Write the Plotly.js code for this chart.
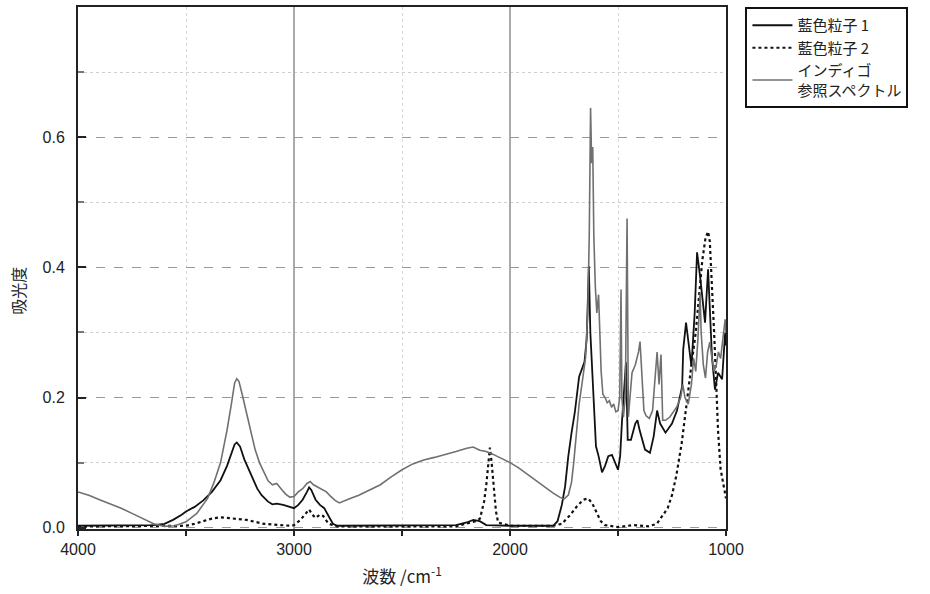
<!DOCTYPE html>
<html>
<head>
<meta charset="utf-8">
<script src="https://cdn.plot.ly/plotly-3.0.1.min.js"></script>
<style>html,body{margin:0;padding:0;background:#fff;}#chart{width:930px;height:594px;}</style>
</head>
<body>
<div id="chart"></div>
<script>
// 藍色粒子 1 (solid black)
const p1Wavenumber = [4000,3900,3800,3700,3650,3600,3560,3520,3500,3460,3420,3380,3340,3310,3290,3275,3265,3250,3230,3210,3190,3170,3150,3120,3100,3080,3050,3020,3000,2980,2960,2940,2930,2920,2900,2880,2860,2840,2820,2800,2600,2400,2250,2200,2170,2140,2110,2000,1900,1800,1780,1760,1745,1730,1715,1700,1680,1665,1655,1645,1635,1628,1622,1612,1602,1590,1574,1560,1545,1528,1515,1500,1490,1482,1463,1455,1440,1420,1410,1400,1375,1352,1335,1319,1305,1280,1250,1227,1203,1198,1185,1170,1160,1145,1134,1120,1105,1097,1083,1065,1051,1037,1018,1004,1000];
const p1Absorb = [0.003,0.003,0.003,0.003,0.004,0.006,0.012,0.02,0.025,0.032,0.042,0.055,0.073,0.095,0.115,0.128,0.131,0.125,0.105,0.09,0.075,0.06,0.05,0.04,0.036,0.037,0.035,0.032,0.03,0.035,0.043,0.055,0.062,0.058,0.043,0.035,0.03,0.018,0.006,0.003,0.003,0.003,0.004,0.008,0.012,0.01,0.004,0.003,0.003,0.003,0.01,0.035,0.063,0.11,0.146,0.177,0.232,0.248,0.255,0.29,0.402,0.3,0.26,0.2,0.125,0.11,0.085,0.095,0.11,0.112,0.1,0.089,0.11,0.161,0.254,0.135,0.135,0.16,0.165,0.15,0.12,0.115,0.14,0.18,0.16,0.146,0.16,0.18,0.217,0.274,0.315,0.27,0.248,0.33,0.423,0.386,0.34,0.315,0.397,0.263,0.212,0.238,0.228,0.3,0.28];

// 藍色粒子 2 (dotted black)
const p2Wavenumber = [4000,3500,3460,3420,3380,3340,3300,3260,3220,3180,3140,3100,3060,3020,3000,2970,2945,2930,2915,2900,2880,2865,2840,2800,2250,2200,2160,2139,2120,2110,2100,2093,2085,2075,2065,2055,2000,1800,1760,1720,1690,1660,1639,1620,1600,1580,1560,1500,1430,1400,1360,1320,1300,1270,1250,1230,1205,1180,1160,1140,1125,1110,1095,1083,1075,1065,1055,1045,1037,1025,1010,1000];
const p2Absorb = [0.002,0.003,0.006,0.01,0.014,0.016,0.015,0.014,0.012,0.009,0.006,0.005,0.004,0.003,0.004,0.012,0.022,0.028,0.02,0.015,0.02,0.018,0.006,0.002,0.002,0.006,0.01,0.014,0.04,0.065,0.1,0.123,0.1,0.06,0.025,0.008,0.003,0.003,0.006,0.02,0.033,0.043,0.045,0.038,0.025,0.01,0.004,0.001,0.004,0.003,0.002,0.006,0.015,0.03,0.05,0.08,0.13,0.2,0.25,0.3,0.35,0.41,0.445,0.455,0.44,0.38,0.3,0.22,0.15,0.09,0.06,0.045];

// インディゴ参照スペクトル (gray)
const refWavenumber = [4000,3950,3900,3850,3800,3750,3700,3650,3600,3550,3500,3450,3400,3370,3340,3310,3290,3275,3265,3255,3240,3220,3200,3180,3160,3140,3120,3100,3080,3060,3040,3020,3000,2980,2960,2940,2925,2910,2890,2870,2850,2830,2810,2790,2770,2740,2700,2650,2600,2550,2500,2450,2400,2350,2300,2250,2200,2170,2140,2110,2080,2050,2000,1960,1920,1880,1840,1800,1770,1750,1730,1715,1705,1695,1680,1665,1650,1640,1633,1627,1622,1617,1612,1605,1598,1590,1585,1578,1570,1560,1550,1540,1530,1520,1510,1500,1492,1486,1482,1475,1466,1458,1452,1445,1435,1420,1405,1398,1390,1380,1370,1355,1340,1325,1319,1310,1301,1293,1280,1260,1240,1227,1210,1200,1190,1175,1160,1150,1140,1130,1120,1115,1105,1095,1085,1075,1065,1055,1045,1035,1025,1015,1004,1000];
const refAbsorb = [0.055,0.05,0.043,0.037,0.03,0.022,0.014,0.006,0.002,0.003,0.009,0.022,0.045,0.07,0.1,0.15,0.19,0.222,0.229,0.225,0.205,0.175,0.145,0.12,0.1,0.085,0.072,0.066,0.068,0.06,0.052,0.047,0.048,0.055,0.06,0.068,0.071,0.066,0.062,0.058,0.055,0.048,0.042,0.038,0.041,0.045,0.05,0.058,0.066,0.078,0.089,0.098,0.104,0.108,0.112,0.117,0.122,0.124,0.119,0.117,0.113,0.108,0.1,0.092,0.082,0.072,0.062,0.053,0.047,0.044,0.05,0.07,0.1,0.14,0.19,0.225,0.262,0.33,0.45,0.645,0.56,0.585,0.45,0.37,0.33,0.358,0.3,0.24,0.205,0.2,0.192,0.195,0.185,0.19,0.178,0.18,0.2,0.366,0.2,0.17,0.2,0.475,0.17,0.2,0.238,0.25,0.27,0.286,0.24,0.18,0.172,0.168,0.18,0.24,0.27,0.22,0.266,0.165,0.165,0.17,0.18,0.186,0.2,0.22,0.2,0.19,0.22,0.26,0.24,0.29,0.36,0.3,0.25,0.23,0.27,0.285,0.26,0.24,0.25,0.27,0.26,0.29,0.32,0.3];

const seriesNames = ['藍色粒子 1', '藍色粒子 2', 'インディゴ<br>参照スペクトル'];
const xTickVals = [4000, 3000, 2000, 1000];
const xTickText = ['4000', '3000', '2000', '1000'];
const xMinorVals = [3500, 2500, 1500];
const yTickVals = [0, 0.2, 0.4, 0.6];
const yTickText = ['0.0', '0.2', '0.4', '0.6'];
const yMinorVals = [0.1, 0.3, 0.5, 0.7];

const numFont = 'Liberation Sans Narrow, Liberation Sans, Arial, sans-serif';
const jpFont = 'Noto Sans CJK JP, sans-serif';

const traces = [
  {x: p1Wavenumber, y: p1Absorb, name: seriesNames[0], type: 'scatter', mode: 'lines',
   line: {color: '#111', width: 1.8}},
  {x: p2Wavenumber, y: p2Absorb, name: seriesNames[1], type: 'scatter', mode: 'lines',
   line: {color: '#111', width: 2.2, dash: 'dot'}},
  {x: refWavenumber, y: refAbsorb, name: seriesNames[2], type: 'scatter', mode: 'lines',
   line: {color: '#707070', width: 1.6}}
];

const layout = {
  width: 930, height: 594,
  margin: {l: 78, r: 204, t: 7, b: 65},
  paper_bgcolor: '#fff', plot_bgcolor: '#fff',
  showlegend: true,
  legend: {x: 1.03, xanchor: 'left', y: 1, yanchor: 'top',
    bordercolor: '#111', borderwidth: 2, bgcolor: '#fff',
    font: {family: jpFont, size: 15, color: '#222'}, tracegroupgap: 0, itemwidth: 40},
  xaxis: {
    range: [4000, 1000], tickvals: xTickVals, ticktext: xTickText,
    showline: true, linecolor: '#222', linewidth: 2, mirror: true,
    ticks: 'outside', ticklen: 5, tickcolor: '#222', tickwidth: 1.5,
    showgrid: true, gridcolor: '#aaaaaa', gridwidth: 1.3,
    zeroline: false,
    minor: {tickvals: xMinorVals, ticks: 'outside', ticklen: 5, tickcolor: '#222', showgrid: true, gridcolor: '#d8d8d8', griddash: 'dot', gridwidth: 1},
    tickfont: {family: numFont, size: 16, color: '#222'},
    title: {text: '波数 /cm<sup>-1</sup>', font: {family: jpFont, size: 17, color: '#222'}, standoff: 14}
  },
  yaxis: {
    range: [-0.002, 0.8], tickvals: yTickVals, ticktext: yTickText,
    showline: true, linecolor: '#222', linewidth: 2, mirror: true,
    ticks: 'inside', ticklen: 8, tickcolor: '#222', tickwidth: 2,
    showgrid: true, gridcolor: '#999999', griddash: 'dash', gridwidth: 1,
    zeroline: false,
    minor: {tickvals: yMinorVals, ticks: 'inside', ticklen: 6, tickcolor: '#777', showgrid: true, gridcolor: '#cfcfcf', griddash: 'dot', gridwidth: 1},
    tickfont: {family: numFont, size: 16, color: '#222'},
    ticklabelstandoff: 8
  },
  annotations: [{
    text: '吸光度', textangle: -90, xref: 'paper', yref: 'paper',
    x: -0.093, y: 0.456, xanchor: 'center', yanchor: 'middle', showarrow: false,
    font: {family: jpFont, size: 16, color: '#222'}
  }]
};

Plotly.newPlot('chart', traces, layout, {displayModeBar: false, staticPlot: true});
</script>
</body>
</html>
